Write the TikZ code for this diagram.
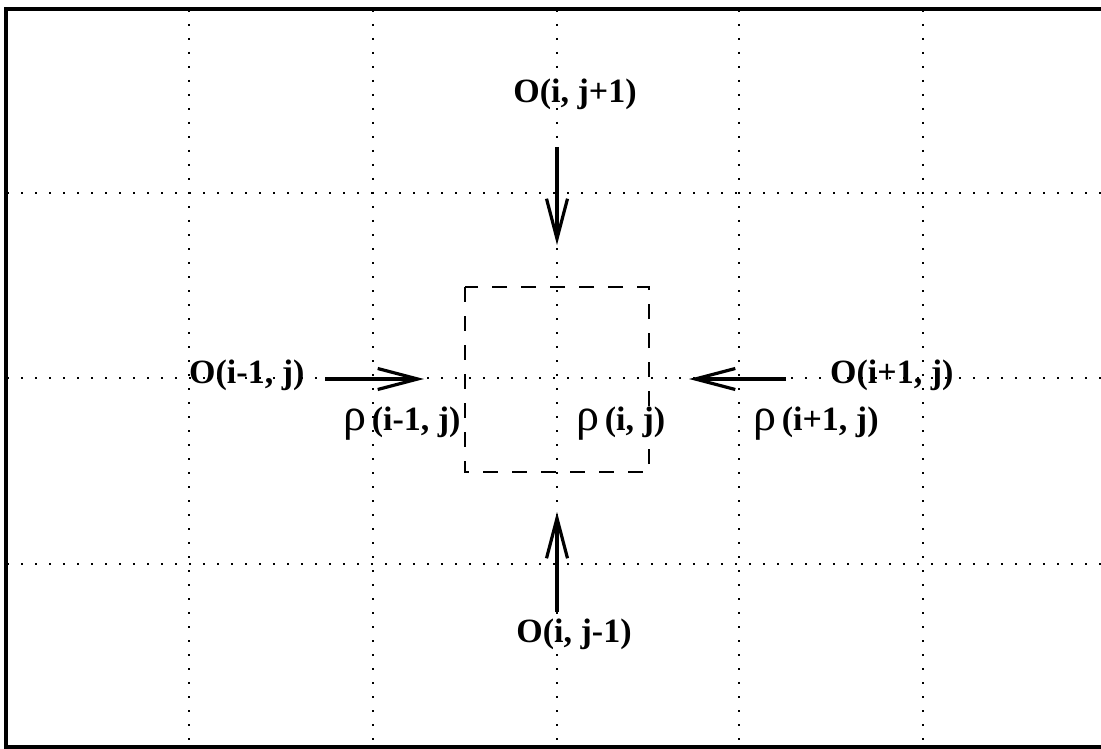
\documentclass[tikz,border=0pt]{standalone}
\usepackage{fontspec}
\setmainfont{Liberation Serif}
\usetikzlibrary{arrows.meta}
\newcommand{\myrho}{{\fontsize{46}{46}\selectfont\mdseries ρ}}
\tikzset{
  gridline/.style={line width=2.4pt, dash pattern=on 2.4pt off 11.6pt},
  frame/.style={line width=3.5pt},
  cell/.style={line width=2.8pt, dash pattern=on 15pt off 14pt},
  flux/.style={line width=3.2pt, -{Straight Barb[length=40pt,width=21pt,line width=3.2pt]}},
  lbl/.style={font=\fontsize{34}{38}\selectfont\bfseries, inner sep=0pt}
}
\begin{document}
\begin{tikzpicture}[x=1pt,y=-1pt]
\useasboundingbox (0,0) rectangle (1101,749);
% grid
\foreach \gx in {189,373,557,739,923} \draw[gridline] (\gx,10) -- (\gx,746);
\foreach \gy in {193,378,564} \draw[gridline] (7,\gy) -- (1101,\gy);
% frame
\draw[frame] (1101,9) -- (6,9) -- (6,747) -- (1101,747);
% cell
\draw[cell] (465,287) rectangle (649,472);
% labels
\node[lbl, anchor=base] (top) at (575,103) {O(i, j+1)};
\node[lbl, anchor=base] (bot) at (574,642) {O(i, j-1)};
\node[lbl, anchor=base west] (left) at (189,383) {O(i-1, j)};
\node[lbl, anchor=base west] (right) at (830,383) {O(i+1, j)};
\node[lbl, anchor=base west] (rl) at (343,430) {\myrho\,(i-1, j)};
\node[lbl, anchor=base west] (rc) at (576,430) {\myrho\,(i, j)};
\node[lbl, anchor=base west] (rr) at (753,430) {\myrho\,(i+1, j)};
% arrows
\coordinate (ts) at (557,147);
\coordinate (te) at (557,245);
\coordinate (bs) at (557,612);
\coordinate (be) at (557,512);
\coordinate (ls) at (325,379);
\coordinate (le) at (424,379);
\coordinate (rs) at (786,379);
\coordinate (re) at (689,379);
\draw[flux] (ts) -- (te);
\draw[flux] (bs) -- (be);
\draw[flux] (ls) -- (le);
\draw[flux] (rs) -- (re);
\end{tikzpicture}
\end{document}
